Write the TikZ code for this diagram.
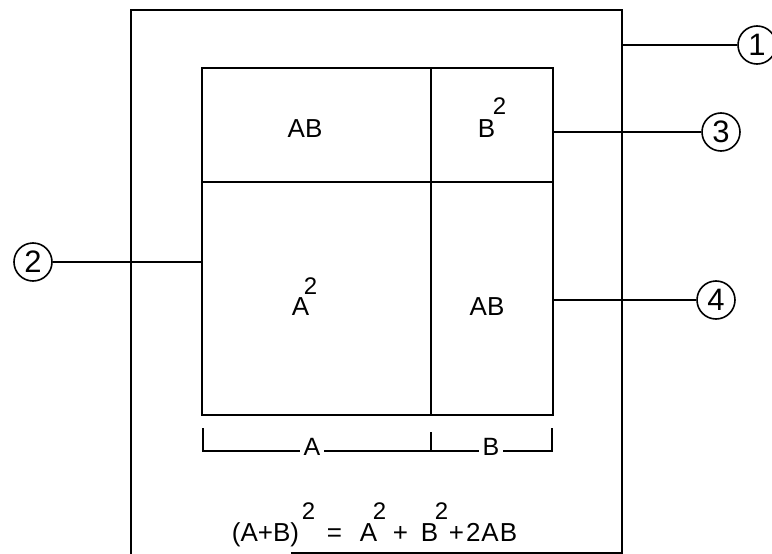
\documentclass[tikz,border=0pt]{standalone}
\usepackage{fontspec}
\setmainfont{Liberation Sans}
\usetikzlibrary{positioning,calc}

\tikzset{
    part/.style={circle, draw, line width=1.6pt, minimum size=38pt, inner sep=0pt, font=\fontsize{31}{31}\selectfont},
    lbl/.style={inner sep=0pt, anchor=base, font=\fontsize{26}{26}\selectfont},
    sq/.style={inner sep=0pt, anchor=base west, font=\fontsize{24}{24}\selectfont},
    dim/.style={inner sep=0pt, anchor=base, fill=white, inner xsep=4pt, font=\fontsize{25}{25}\selectfont},
    eq/.style={inner sep=0pt, anchor=base west, font=\fontsize{26}{26}\selectfont},
}

\begin{document}
\begin{tikzpicture}[x=1pt, y=-1pt, line width=1.7pt]
        \useasboundingbox (0,0) rectangle (772,554);
        % outer frame and square
        \draw (131,556) -- (131,10) -- (622,10) -- (622,556);
        \draw (291,553) -- (622,553);
        \coordinate (tl) at (202,68);
        \coordinate (br) at (553,415);
        \draw (tl) rectangle (br);
        \draw (431,68) -- (431,415);
        \draw (202,182) -- (553,182);
        % areas
        \node[lbl] (ab1) at (305,137) {AB};
        \node[lbl, anchor=base west] (bb) at (477,137) {B};
        \node[sq] (bsq) at (492,114) {2};
        \node[lbl, anchor=base west] (aa) at (291,315) {A};
        \node[sq] (asq) at (303,294) {2};
        \node[lbl] (ab2) at (487,315) {AB};
        % dimensions
        \draw (203,428) -- (203,451) -- (552,451) -- (552,428);
        \draw (431,432) -- (431,451);
        \node[dim] (da) at (312,455) {A};
        \node[dim] (db) at (491,455) {B};
        % law
        \node[eq] (lhs) at (231,541) {(A+B)};
        \node[sq] (s1) at (301,519) {2};
        \node[eq] (eqs) at (326,541) {=};
        \node[eq] (ta) at (359,541) {A};
        \node[sq] (s2) at (372,519) {2};
        \node[eq] (pa) at (392,541) {+};
        \node[eq] (tb) at (420,541) {B};
        \node[sq] (s3) at (434,519) {2};
        \node[eq] (rest) at (448,541) {+\kern2pt 2\kern1pt A\kern1pt B};
        % part numbers
        \node[part] (p1) at (757,45) {1};
        \node[part] (p2) at (33,262) {2};
        \node[part] (p3) at (721,132) {3};
        \node[part] (p4) at (716,300) {4};
        \coordinate (e1) at (622,45);
        \coordinate (e2) at (202,262);
        \coordinate (e3) at (553,132);
        \coordinate (e4) at (553,300);
        \draw (e1) -- (p1);
        \draw (p2) -- (e2);
        \draw (e3) -- (p3);
        \draw (e4) -- (p4);
\end{tikzpicture}
\end{document}
